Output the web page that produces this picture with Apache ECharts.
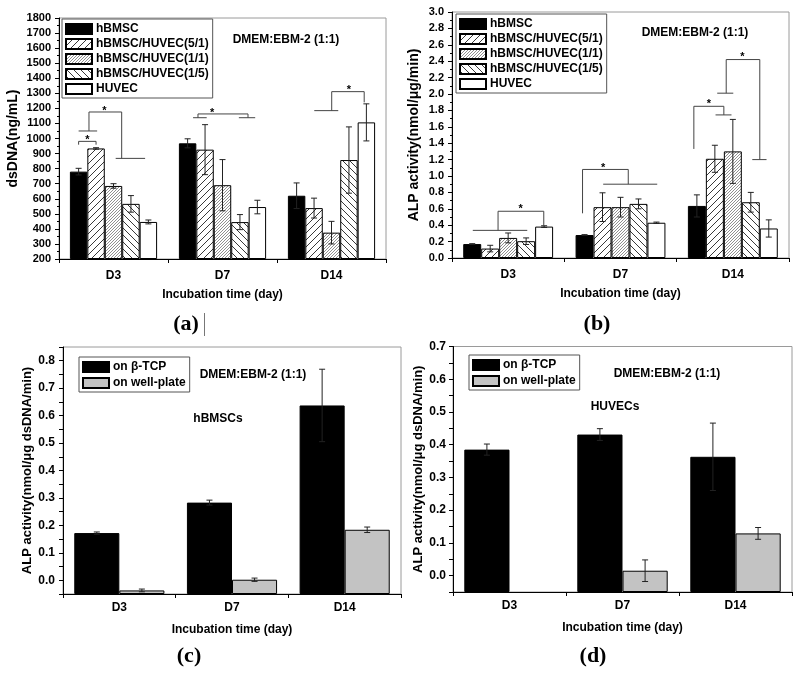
<!DOCTYPE html>
<html><head><meta charset="utf-8">
<script src="https://cdn.jsdelivr.net/npm/echarts@6/dist/echarts.min.js"></script>
<style>html,body{margin:0;padding:0;background:#fff}#c{width:800px;height:674px}</style>
</head><body><div id="c"></div>
<script>
// ---------- data ----------
const days = ['D3', 'D7', 'D14'];
const groupsAB = ['hBMSC', 'hBMSC/HUVEC(5/1)', 'hBMSC/HUVEC(1/1)', 'hBMSC/HUVEC(1/5)', 'HUVEC'];
const groupsCD = ['on β-TCP', 'on well-plate'];

// (a) dsDNA (ng/mL)
const dna_hBMSC = [780, 968, 620];
const dna_51 = [934, 926, 538];
const dna_11 = [685, 690, 375];
const dna_15 = [566, 445, 857];
const dna_HUVEC = [446, 545, 1107];
const dnaErr_hBMSC = [22, 30, 85];
const dnaErr_51 = [5, 166, 66];
const dnaErr_11 = [15, 170, 75];
const dnaErr_15 = [55, 50, 220];
const dnaErr_HUVEC = [13, 45, 123];

// (b) ALP activity (nmol/ug/min)
const alp_hBMSC = [0.17, 0.28, 0.635];
const alp_51 = [0.115, 0.62, 1.21];
const alp_11 = [0.245, 0.62, 1.30];
const alp_15 = [0.205, 0.66, 0.68];
const alp_HUVEC = [0.383, 0.43, 0.36];
const alpErr_hBMSC = [0.005, 0.005, 0.135];
const alpErr_51 = [0.04, 0.175, 0.165];
const alpErr_11 = [0.06, 0.12, 0.39];
const alpErr_15 = [0.04, 0.06, 0.12];
const alpErr_HUVEC = [0.01, 0.008, 0.105];

// (c) hBMSCs ALP (nmol/ug dsDNA/min)
const c_tcp = [0.172, 0.283, 0.637];
const c_well = [-0.037, 0.002, 0.184];
const cErr_tcp = [0.004, 0.009, 0.132];
const cErr_well = [0.005, 0.006, 0.01];

// (d) HUVECs ALP (nmol/ug dsDNA/min)
const d_tcp = [0.385, 0.431, 0.363];
const d_well = [null, 0.015, 0.129];
const dErr_tcp = [0.017, 0.018, 0.103];
const dErr_well = [null, 0.033, 0.018];

// significance brackets: category index, polylines as [offset within band, value], star [offset, value]
const sigA = [
  {cat: 0, lines: [[[-0.32, 959], [-0.32, 981], [-0.16, 981], [-0.16, 959]]], star: [-0.24, 1012]},
  {cat: 0, lines: [[[-0.32, 1050], [-0.15, 1050]], [[-0.225, 1050], [-0.225, 1176], [0.075, 1176], [0.075, 868]], [[0.02, 868], [0.29, 868]]], star: [-0.084, 1200]},
  {cat: 1, lines: [[[-0.27, 1138], [-0.145, 1138]], [[-0.225, 1138], [-0.225, 1163], [0.234, 1163], [0.234, 1138]], [[0.15, 1138], [0.3, 1138]]], star: [-0.094, 1191]},
  {cat: 2, lines: [[[-0.158, 1185], [0.062, 1185]], [[0.002, 1185], [0.002, 1311], [0.30, 1311], [0.30, 1240]]], star: [0.16, 1342]}
];
const sigB = [
  {cat: 0, lines: [[[-0.315, 0.337], [0.17, 0.337]], [[-0.09, 0.337], [-0.09, 0.57], [0.317, 0.57], [0.317, 0.39]]], star: [0.112, 0.634]},
  {cat: 1, lines: [[[-0.338, 0.545], [-0.338, 1.08], [0.069, 1.08], [0.069, 0.90]], [[-0.154, 0.90], [0.327, 0.90]]], star: [-0.154, 1.14]},
  {cat: 2, lines: [[[-0.347, 1.33], [-0.347, 1.85], [-0.08, 1.85], [-0.08, 1.745]], [[-0.154, 1.745], [-0.012, 1.745]]], star: [-0.214, 1.92]},
  {cat: 2, lines: [[[-0.139, 2.01], [0.004, 2.01]], [[-0.059, 2.01], [-0.059, 2.42], [0.24, 2.42], [0.24, 1.20]], [[0.173, 1.20], [0.30, 1.20]]], star: [0.084, 2.485]}
];

// ---------- styling helpers ----------
const FONT = '"Liberation Sans", Arial, sans-serif';
function hatch(s, dir, lw, col) {
  const c = document.createElement('canvas');
  c.width = s; c.height = s;
  const g = c.getContext('2d');
  g.fillStyle = '#fff'; g.fillRect(0, 0, s, s);
  g.strokeStyle = col; g.lineWidth = lw;
  g.beginPath();
  if (dir > 0) {
    g.moveTo(-1, s + 1); g.lineTo(s + 1, -1);
    g.moveTo(-1, 1); g.lineTo(1, -1);
    g.moveTo(s - 1, s + 1); g.lineTo(s + 1, s - 1);
  } else {
    g.moveTo(-1, -1); g.lineTo(s + 1, s + 1);
    g.moveTo(s - 1, -1); g.lineTo(s + 1, 1);
    g.moveTo(-1, s - 1); g.lineTo(1, s + 1);
  }
  g.stroke();
  return {image: c, repeat: 'repeat'};
}
const fillsAB = ['#000', hatch(7, 1, 0.9, '#222'), hatch(3, 1, 0.6, '#444'), hatch(7, -1, 0.9, '#222'), '#fff'];
const fillsCD = ['#000', '#c3c3c3'];
const offs5 = [-0.32, -0.16, 0, 0.16, 0.32];
const offs2 = [-0.2, 0.2];

const grids = [
  {left: 59, top: 18, width: 327, height: 241},
  {left: 452, top: 12, width: 337, height: 246},
  {left: 63, top: 347, width: 338, height: 247},
  {left: 453, top: 346.5, width: 339, height: 245.5}
].map(g => Object.assign({show: true, borderColor: '#9a9a9a', borderWidth: 1, backgroundColor: 'transparent', outerBoundsMode: 'none', containLabel: false}, g));

function xAxis(i, margin) {
  return {
    type: 'category', gridIndex: i, data: days,
    name: 'Incubation time (day)', nameLocation: 'middle', nameGap: 30,
    nameTextStyle: {fontFamily: FONT, fontWeight: 'bold', fontSize: 12, color: '#000'},
    axisLine: {onZero: false, lineStyle: {color: '#000', width: 1}},
    axisTick: {show: true, inside: false, length: 4, lineStyle: {color: '#000'}},
    axisLabel: {fontFamily: FONT, fontWeight: 'bold', fontSize: 12, color: '#000', margin: margin},
    splitLine: {show: false}
  };
}
function yAxis(i, o) {
  return Object.assign({
    type: 'value', gridIndex: i, nameLocation: 'middle',
    nameTextStyle: {fontFamily: FONT, fontWeight: 'bold', fontSize: 14, color: '#000'},
    axisLine: {show: true, onZero: false, lineStyle: {color: '#000', width: 1}},
    axisTick: {show: true, inside: false, length: 4, lineStyle: {color: '#000'}},
    minorTick: {show: false},
    axisLabel: {fontFamily: FONT, fontWeight: 'bold', fontSize: 11, color: '#000', margin: 8},
    splitLine: {show: false}
  }, o);
}
const oneDec = v => (Math.abs(Math.round(v * 20)) % 2 === 0) ? v.toFixed(1) : '';

const xAxes = [xAxis(0, 11), xAxis(1, 11), xAxis(2, 8), xAxis(3, 8)];
const yAxes = [
  yAxis(0, {min: 200, max: 1800, interval: 100, startValue: 200, name: 'dsDNA(ng/mL)', nameGap: 39,
    axisLabel: {fontFamily: FONT, fontWeight: 'bold', fontSize: 11, color: '#000', margin: 8, formatter: v => String(v)},
    minorTick: {show: true, splitNumber: 2, length: 2, lineStyle: {color: '#000'}}}),
  yAxis(1, {min: 0, max: 3.0, interval: 0.2, startValue: 0, name: 'ALP activity(nmol/μg/min)', nameGap: 31,
    axisLabel: {fontFamily: FONT, fontWeight: 'bold', fontSize: 11, color: '#000', margin: 8, formatter: v => v.toFixed(1)},
    minorTick: {show: true, splitNumber: 2, length: 2, lineStyle: {color: '#000'}}}),
  yAxis(2, {min: -0.05, max: 0.85, interval: 0.05, startValue: -0.05, name: 'ALP activity(nmol/μg dsDNA/min)', nameGap: 27,
    nameTextStyle: {fontFamily: FONT, fontWeight: 'bold', fontSize: 13, color: '#000'},
    axisLabel: {fontFamily: FONT, fontWeight: 'bold', fontSize: 12, color: '#000', margin: 8, formatter: oneDec}}),
  yAxis(3, {min: -0.05, max: 0.7, interval: 0.05, startValue: -0.05, name: 'ALP activity(nmol/μg dsDNA/min)', nameGap: 26,
    nameTextStyle: {fontFamily: FONT, fontWeight: 'bold', fontSize: 13, color: '#000'},
    axisLabel: {fontFamily: FONT, fontWeight: 'bold', fontSize: 12, color: '#000', margin: 7, formatter: oneDec}})
];

const series = [];
function addBars(idx, names, vals, fills) {
  names.forEach((n, k) => {
    series.push({
      type: 'bar', name: n, xAxisIndex: idx, yAxisIndex: idx, data: vals[k],
      barGap: '0%', barCategoryGap: '20%', clip: true, z: 2,
      itemStyle: {color: fills[k], borderColor: '#000', borderWidth: 1},
      emphasis: {disabled: true}, animation: false
    });
  });
}
function addErrors(idx, vals, errs, offs) {
  const data = [];
  vals.forEach((arr, k) => arr.forEach((v, c) => {
    if (v != null && errs[k][c] != null) data.push([c, v, errs[k][c], offs[k]]);
  }));
  series.push({
    type: 'custom', xAxisIndex: idx, yAxisIndex: idx, z: 3, silent: true, animation: false,
    encode: {x: 0, y: 1},
    data: data,
    renderItem: function (params, api) {
      const c = api.value(0), v = api.value(1), e = api.value(2), off = api.value(3);
      const band = api.size([1, 0])[0];
      const x = api.coord([c, v])[0] + off * band;
      const yt = api.coord([c, v + e])[1], yb = api.coord([c, v - e])[1];
      const st = {stroke: '#222', lineWidth: 1};
      return {type: 'group', children: [
        {type: 'line', shape: {x1: x, y1: yt, x2: x, y2: yb}, style: st},
        {type: 'line', shape: {x1: x - 3, y1: yt, x2: x + 3, y2: yt}, style: st},
        {type: 'line', shape: {x1: x - 3, y1: yb, x2: x + 3, y2: yb}, style: st}
      ]};
    }
  });
}
function addSig(idx, sig) {
  series.push({
    type: 'custom', xAxisIndex: idx, yAxisIndex: idx, z: 4, silent: true, animation: false,
    encode: {x: 0, y: 1},
    data: sig.map(s => [s.cat, s.star[1]]),
    renderItem: function (params, api) {
      const s = sig[params.dataIndex];
      const band = api.size([1, 0])[0];
      const P = p => {
        const pt = api.coord([s.cat, p[1]]);
        return [pt[0] + p[0] * band, pt[1]];
      };
      const children = s.lines.map(l => ({
        type: 'polyline', shape: {points: l.map(P)},
        style: {stroke: '#444', lineWidth: 1, fill: null}
      }));
      const sp = P(s.star);
      children.push({type: 'text', x: sp[0], y: sp[1] + 3,
        style: {text: '*', fill: '#000', font: 'bold 11px ' + FONT, align: 'center', verticalAlign: 'middle'}});
      return {type: 'group', children: children};
    }
  });
}

addBars(0, groupsAB, [dna_hBMSC, dna_51, dna_11, dna_15, dna_HUVEC], fillsAB);
addErrors(0, [dna_hBMSC, dna_51, dna_11, dna_15, dna_HUVEC], [dnaErr_hBMSC, dnaErr_51, dnaErr_11, dnaErr_15, dnaErr_HUVEC], offs5);
addSig(0, sigA);
addBars(1, groupsAB, [alp_hBMSC, alp_51, alp_11, alp_15, alp_HUVEC], fillsAB);
addErrors(1, [alp_hBMSC, alp_51, alp_11, alp_15, alp_HUVEC], [alpErr_hBMSC, alpErr_51, alpErr_11, alpErr_15, alpErr_HUVEC], offs5);
addSig(1, sigB);
addBars(2, groupsCD, [c_tcp, c_well], fillsCD);
addErrors(2, [c_tcp, c_well], [cErr_tcp, cErr_well], offs2);
addBars(3, groupsCD, [d_tcp, d_well], fillsCD);
addErrors(3, [d_tcp, d_well], [dErr_tcp, dErr_well], offs2);

function legend(names, left, top, gap) {
  return {
    data: names, left: left, top: top, orient: 'vertical', icon: 'rect',
    itemWidth: 26, itemHeight: 10, itemGap: gap, padding: [4, 4, 3, 3],
    borderColor: '#555', borderWidth: 1, backgroundColor: '#fff', borderRadius: 0,
    selectedMode: false,
    textStyle: {fontFamily: FONT, fontWeight: 'bold', fontSize: 12, color: '#000', padding: [0, 0, 0, -1]}
  };
}

const txt = (x, y, text, font) => ({type: 'text', x: x, y: y, silent: true,
  style: {text: text, font: font, fill: '#000', align: 'center', verticalAlign: 'middle'}});

const option = {
  animation: false,
  backgroundColor: '#fff',
  grid: grids,
  xAxis: xAxes,
  yAxis: yAxes,
  legend: [
    legend(groupsAB, 62, 19, 3),
    legend(groupsAB, 456, 14, 3),
    legend(groupsCD, 79, 357, 4),
    legend(groupsCD, 469, 355, 4)
  ],
  series: series,
  graphic: [
    txt(286, 40, 'DMEM:EBM-2 (1:1)', 'bold 12px ' + FONT),
    txt(695, 33, 'DMEM:EBM-2 (1:1)', 'bold 12px ' + FONT),
    txt(253, 375, 'DMEM:EBM-2 (1:1)', 'bold 12px ' + FONT),
    txt(218, 419, 'hBMSCs', 'bold 12px ' + FONT),
    txt(667, 374, 'DMEM:EBM-2 (1:1)', 'bold 12px ' + FONT),
    txt(615, 407, 'HUVECs', 'bold 12px ' + FONT),
    txt(186, 324, '(a)', 'bold 22px "Liberation Serif", "Times New Roman", serif'),
    txt(597, 324, '(b)', 'bold 22px "Liberation Serif", "Times New Roman", serif'),
    txt(189, 656, '(c)', 'bold 22px "Liberation Serif", "Times New Roman", serif'),
    txt(593, 656, '(d)', 'bold 22px "Liberation Serif", "Times New Roman", serif'),
    {type: 'line', silent: true, shape: {x1: 204.5, y1: 313, x2: 204.5, y2: 336}, style: {stroke: '#777', lineWidth: 1}}
  ]
};
const chart = echarts.init(document.getElementById('c'), null, {renderer: 'canvas'});
chart.setOption(option);
</script>
</body></html>
